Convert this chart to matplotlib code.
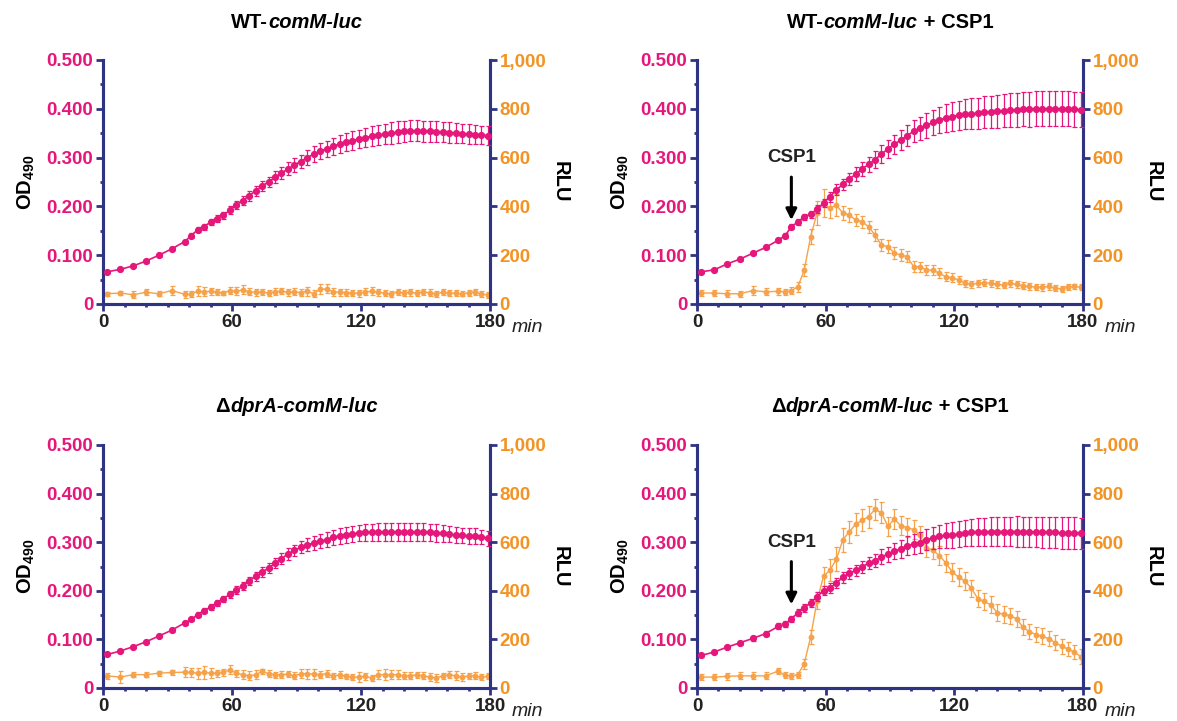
import numpy as np
import matplotlib
matplotlib.use("Agg")
import matplotlib.pyplot as plt
from matplotlib.ticker import MultipleLocator, FuncFormatter

plt.rcParams['font.family'] = ['Liberation Sans', 'DejaVu Sans']
plt.rcParams['mathtext.fontset'] = 'custom'
plt.rcParams['mathtext.rm'] = 'Liberation Sans'
plt.rcParams['mathtext.bf'] = 'Liberation Sans:bold'

# sampling times (min)
t = [2, 8, 14, 20, 26, 32, 38, 41, 44, 47, 50, 53, 56, 59, 62, 65, 68, 71,
     74, 77, 80, 83, 86, 89, 92, 95, 98, 101, 104, 107, 110, 113, 116, 119,
     122, 125, 128, 131, 134, 137, 140, 143, 146, 149, 152, 155, 158, 161,
     164, 167, 170, 173, 176, 179]

# WT-comM-luc
od_wt = [0.066, 0.071, 0.078, 0.088, 0.100, 0.113, 0.128, 0.140, 0.152, 0.158,
         0.168, 0.175, 0.182, 0.192, 0.203, 0.212, 0.222, 0.232, 0.242, 0.250,
         0.260, 0.268, 0.277, 0.285, 0.292, 0.300, 0.307, 0.313, 0.318, 0.323,
         0.328, 0.332, 0.335, 0.338, 0.341, 0.344, 0.346, 0.348, 0.350, 0.352,
         0.354, 0.355, 0.355, 0.354, 0.354, 0.353, 0.352, 0.351, 0.350, 0.349,
         0.348, 0.347, 0.346, 0.345]
od_wt_err = [0.002, 0.002, 0.002, 0.003, 0.003, 0.003, 0.004, 0.005, 0.005, 0.006,
             0.006, 0.007, 0.007, 0.008, 0.009, 0.009, 0.010, 0.010, 0.011, 0.011,
             0.012, 0.012, 0.013, 0.014, 0.014, 0.015, 0.016, 0.016, 0.017, 0.017,
             0.018, 0.018, 0.019, 0.019, 0.020, 0.020, 0.021, 0.021, 0.022, 0.022,
             0.022, 0.022, 0.022, 0.022, 0.022, 0.021, 0.021, 0.021, 0.020, 0.020,
             0.020, 0.019, 0.019, 0.019]
rlu_wt = [42, 45, 38, 48, 42, 55, 40, 40, 52, 50, 52, 48, 45, 55, 52, 58, 50, 48,
          50, 45, 50, 52, 48, 50, 47, 52, 42, 60, 62, 50, 48, 47, 45, 44, 50, 52,
          48, 45, 40, 50, 45, 48, 44, 50, 46, 42, 48, 45, 44, 42, 46, 50, 40, 38]
rlu_wt_err = [8, 10, 15, 12, 10, 18, 15, 12, 20, 18, 15, 12, 10, 14, 16, 18, 15, 14,
              12, 12, 14, 13, 15, 14, 16, 18, 15, 20, 18, 16, 14, 13, 12, 14, 15, 16,
              14, 12, 13, 12, 14, 15, 13, 12, 14, 12, 13, 14, 12, 11, 12, 13, 12, 12]

# WT-comM-luc + CSP1
od_wtc = [0.066, 0.070, 0.082, 0.092, 0.104, 0.116, 0.131, 0.140, 0.158, 0.168,
          0.178, 0.184, 0.194, 0.207, 0.220, 0.234, 0.245, 0.256, 0.266, 0.277,
          0.286, 0.296, 0.307, 0.318, 0.327, 0.336, 0.345, 0.354, 0.360, 0.366,
          0.372, 0.377, 0.381, 0.384, 0.387, 0.389, 0.390, 0.391, 0.393, 0.394,
          0.395, 0.396, 0.397, 0.398, 0.399, 0.399, 0.400, 0.400, 0.400, 0.400,
          0.400, 0.400, 0.399, 0.398]
od_wtc_err = [0.002, 0.002, 0.003, 0.003, 0.003, 0.004, 0.004, 0.005, 0.005, 0.006,
              0.006, 0.007, 0.008, 0.009, 0.010, 0.011, 0.012, 0.013, 0.014, 0.015,
              0.016, 0.017, 0.018, 0.019, 0.020, 0.021, 0.022, 0.023, 0.024, 0.025,
              0.026, 0.027, 0.028, 0.029, 0.030, 0.031, 0.032, 0.032, 0.033, 0.033,
              0.034, 0.034, 0.035, 0.035, 0.035, 0.036, 0.036, 0.036, 0.036, 0.036,
              0.036, 0.036, 0.036, 0.036]
rlu_wtc = [45, 45, 42, 42, 55, 50, 52, 50, 55, 70, 139, 276, 373, 413, 393, 405,
           373, 365, 344, 337, 317, 283, 242, 235, 209, 201, 194, 153, 153, 139,
           139, 126, 112, 108, 98, 85, 81, 85, 88, 85, 80, 78, 85, 80, 75, 72, 70,
           68, 72, 65, 62, 70, 72, 68]
rlu_wtc_err = [12, 12, 15, 12, 18, 15, 15, 12, 15, 20, 25, 30, 50, 58, 40, 45, 30, 30,
               25, 25, 25, 25, 25, 28, 25, 25, 22, 22, 20, 22, 20, 20, 18, 18, 18, 15,
               15, 15, 15, 15, 14, 14, 14, 14, 14, 13, 13, 13, 13, 13, 12, 12, 12, 12]

# dprA-comM-luc
od_dp = [0.069, 0.076, 0.085, 0.095, 0.107, 0.119, 0.134, 0.141, 0.151, 0.159,
         0.166, 0.175, 0.183, 0.193, 0.201, 0.210, 0.220, 0.230, 0.238, 0.247,
         0.257, 0.266, 0.276, 0.283, 0.290, 0.295, 0.298, 0.302, 0.305, 0.310,
         0.313, 0.315, 0.317, 0.319, 0.320, 0.320, 0.321, 0.321, 0.321, 0.321,
         0.321, 0.321, 0.321, 0.321, 0.320, 0.319, 0.318, 0.317, 0.315, 0.314,
         0.313, 0.313, 0.311, 0.308]
od_dp_err = [0.002, 0.002, 0.002, 0.003, 0.003, 0.003, 0.004, 0.004, 0.005, 0.005,
             0.006, 0.006, 0.007, 0.007, 0.008, 0.008, 0.009, 0.009, 0.010, 0.010,
             0.011, 0.011, 0.012, 0.012, 0.013, 0.013, 0.014, 0.014, 0.015, 0.015,
             0.016, 0.016, 0.017, 0.017, 0.018, 0.018, 0.018, 0.019, 0.019, 0.019,
             0.019, 0.019, 0.019, 0.018, 0.018, 0.018, 0.017, 0.017, 0.017, 0.016,
             0.016, 0.016, 0.015, 0.015]
rlu_dp = [50, 45, 55, 55, 61, 64, 65, 64, 61, 64, 61, 61, 64, 75, 61, 55, 50, 55,
          68, 59, 55, 55, 57, 50, 59, 59, 57, 55, 59, 48, 55, 48, 45, 45, 48, 41,
          55, 55, 55, 55, 50, 50, 55, 50, 45, 41, 50, 55, 50, 45, 50, 50, 45, 48]
rlu_dp_err = [12, 25, 10, 10, 10, 12, 20, 18, 22, 25, 20, 15, 15, 18, 15, 20, 18, 20,
              12, 15, 12, 15, 12, 15, 18, 20, 22, 15, 15, 12, 15, 10, 12, 20, 15, 12,
              20, 22, 20, 18, 15, 15, 12, 15, 15, 18, 12, 15, 18, 15, 12, 15, 12, 12]

# dprA-comM-luc + CSP1
od_dpc = [0.067, 0.074, 0.084, 0.093, 0.102, 0.112, 0.127, 0.131, 0.142, 0.155,
          0.165, 0.175, 0.188, 0.200, 0.206, 0.216, 0.228, 0.236, 0.242, 0.249,
          0.257, 0.262, 0.270, 0.275, 0.282, 0.286, 0.293, 0.296, 0.299, 0.305,
          0.309, 0.312, 0.314, 0.315, 0.317, 0.319, 0.320, 0.321, 0.321, 0.322,
          0.322, 0.322, 0.322, 0.322, 0.321, 0.321, 0.321, 0.320, 0.320, 0.320,
          0.319, 0.319, 0.319, 0.318]
od_dpc_err = [0.003, 0.003, 0.004, 0.004, 0.005, 0.005, 0.006, 0.006, 0.007, 0.007,
              0.008, 0.008, 0.009, 0.009, 0.010, 0.010, 0.011, 0.011, 0.012, 0.012,
              0.013, 0.014, 0.015, 0.016, 0.017, 0.018, 0.019, 0.020, 0.021, 0.022,
              0.023, 0.024, 0.025, 0.026, 0.027, 0.027, 0.028, 0.028, 0.029, 0.029,
              0.030, 0.030, 0.030, 0.031, 0.031, 0.031, 0.031, 0.032, 0.032, 0.032,
              0.032, 0.032, 0.032, 0.032]
rlu_dpc = [45, 45, 48, 50, 50, 50, 70, 52, 50, 55, 100, 210, 360, 460, 485, 530,
           610, 642, 675, 690, 705, 735, 722, 665, 695, 668, 660, 652, 628, 578,
           567, 545, 515, 478, 456, 440, 410, 367, 356, 342, 310, 303, 298, 285,
           250, 232, 220, 213, 203, 187, 172, 160, 148, 129]
rlu_dpc_err = [12, 12, 15, 15, 15, 15, 12, 12, 12, 12, 20, 30, 35, 40, 45, 50, 50, 45,
               45, 45, 45, 43, 45, 40, 40, 40, 38, 38, 38, 38, 38, 38, 38, 38, 36, 36,
               35, 35, 35, 35, 34, 34, 33, 33, 33, 32, 32, 32, 32, 31, 31, 30, 30, 30]

PINK = '#E6177B'
ORANGE = '#F6A24A'
ORANGE_TXT = '#F39323'
NAVY = '#2E3383'

W, H = 1177, 721
fig = plt.figure(figsize=(W / 100, H / 100), dpi=100)


def px_rect(left, top, right, bottom):
    return [left / W, 1 - bottom / H, (right - left) / W, (bottom - top) / H]


def rich_text(xc, y, parts, size=14.5):
    # title made of upright and italic bold pieces, centred on xc (pixels)
    r = fig.canvas.get_renderer()
    texts = []
    for s, style in parts:
        texts.append(fig.text(0, y, s, fontsize=size, fontweight='bold',
                              fontstyle=style, ha='left', va='center'))
    widths = [tx.get_window_extent(r).width for tx in texts]
    x0 = xc - sum(widths) / 2
    for tx, w in zip(texts, widths):
        tx.set_x(x0 / W)
        x0 += w


def panel(rect, od, od_err, rlu, rlu_err, title, arrow=None):
    ax = fig.add_axes(rect)
    ax2 = ax.twinx()
    ax.errorbar(t, od, yerr=od_err, fmt='-o', color=PINK, ms=4.2, lw=1.2,
                elinewidth=0.9, capsize=1.8, capthick=0.9, clip_on=False, zorder=3)
    ax2.errorbar(t, rlu, yerr=rlu_err, fmt='-o', color=ORANGE, ms=3.2, lw=1.0,
                 elinewidth=0.9, capsize=1.8, capthick=0.9, clip_on=False, zorder=3)
    ax.set_xlim(0, 180)
    ax.set_ylim(0, 0.5)
    ax2.set_ylim(0, 1000)
    for a in (ax, ax2):
        a.spines['top'].set_visible(False)
        for s in ('left', 'right', 'bottom'):
            a.spines[s].set_color(NAVY)
            a.spines[s].set_linewidth(2.2)
    ax.xaxis.set_major_locator(MultipleLocator(60))
    ax.xaxis.set_minor_locator(MultipleLocator(10))
    ax.yaxis.set_major_locator(MultipleLocator(0.1))
    ax.yaxis.set_minor_locator(MultipleLocator(0.05))
    ax.yaxis.set_major_formatter(FuncFormatter(lambda v, p: '0' if v == 0 else f'{v:.3f}'))
    ax2.yaxis.set_major_locator(MultipleLocator(200))
    ax2.yaxis.set_major_formatter(FuncFormatter(lambda v, p: f'{int(v):,}'))
    ax.tick_params(axis='both', which='major', direction='out', length=5, width=2,
                   color=NAVY, labelsize=13.5, pad=2)
    ax.tick_params(axis='both', which='minor', direction='out', length=2.5, width=2,
                   color=NAVY)
    ax.tick_params(axis='y', labelcolor=PINK)
    ax.tick_params(axis='x', labelcolor='#222222')
    ax2.tick_params(axis='y', direction='out', length=5, width=2, color=NAVY,
                    labelsize=13.5, labelcolor=ORANGE_TXT, pad=2)
    for lab in ax.get_xticklabels() + ax.get_yticklabels() + ax2.get_yticklabels():
        lab.set_fontweight('bold')
    ax.set_ylabel(r'OD$_{\mathbf{490}}$', fontsize=14.5, fontweight='bold', labelpad=7)
    ax2.set_ylabel('RLU', fontsize=14.5, fontweight='bold', rotation=270, labelpad=17)
    ax.text(1.057, -0.095, 'min', transform=ax.transAxes, fontsize=14,
            fontstyle='italic', ha='left', va='center', color='#222222')
    if arrow is not None:
        ax.annotate('', xy=(arrow, 0.172), xytext=(arrow, 0.26),
                    arrowprops=dict(arrowstyle='-|>', lw=2.2, color='black',
                                    mutation_scale=16, shrinkA=0, shrinkB=0))
        ax.text(arrow, 0.30, 'CSP1', fontsize=13.5, fontweight='bold', color='#222222',
                ha='center', va='center')
    ax.set_zorder(ax2.get_zorder() + 1)
    ax.patch.set_visible(False)
    l, b, w, h = rect
    rich_text((l + w / 2) * W, b + h + 38 / H, title)
    return ax


panel(px_rect(103, 60, 490, 304), od_wt, od_wt_err, rlu_wt, rlu_wt_err,
      [('WT-', 'normal'), ('comM-luc', 'italic')])
panel(px_rect(697, 60, 1083, 304), od_wtc, od_wtc_err, rlu_wtc, rlu_wtc_err,
      [('WT-', 'normal'), ('comM-luc', 'italic'), (' + CSP1', 'normal')], arrow=44)
panel(px_rect(103, 445, 490, 688), od_dp, od_dp_err, rlu_dp, rlu_dp_err,
      [('\u0394', 'normal'), ('dprA-comM-luc', 'italic')])
panel(px_rect(697, 445, 1083, 688), od_dpc, od_dpc_err, rlu_dpc, rlu_dpc_err,
      [('\u0394', 'normal'), ('dprA-comM-luc', 'italic'), (' + CSP1', 'normal')], arrow=44)

fig.savefig('out.png', dpi=100)
